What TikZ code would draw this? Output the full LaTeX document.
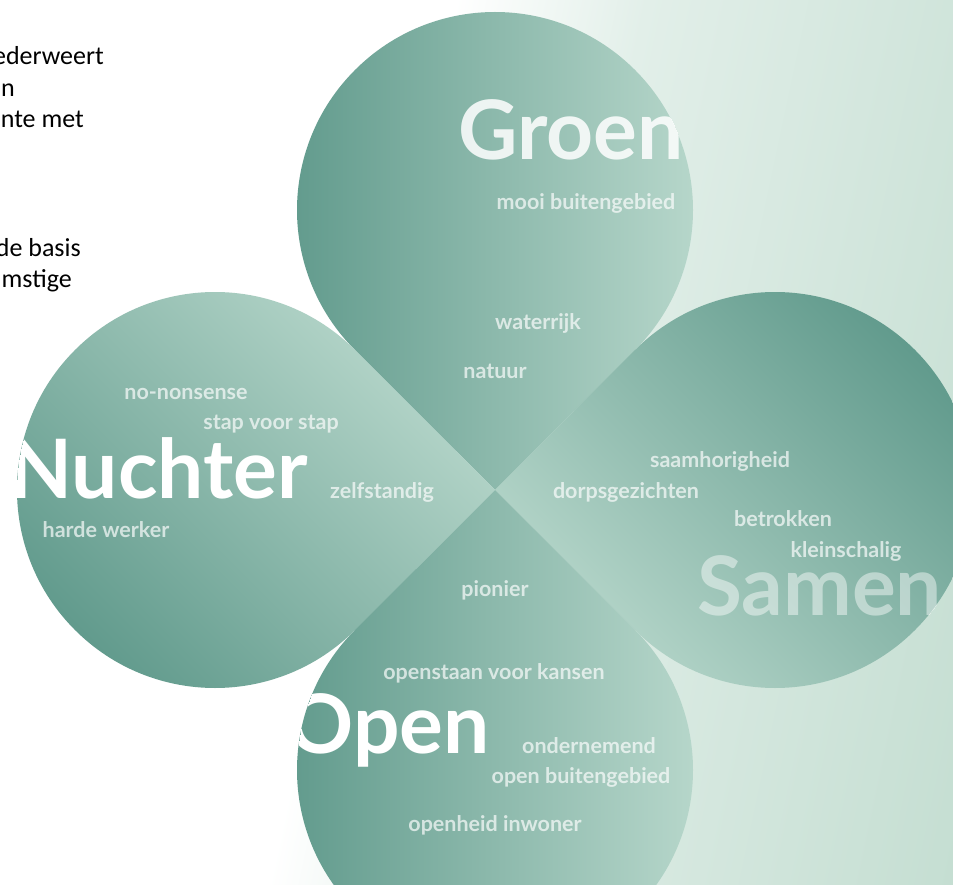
\documentclass[tikz,border=0pt]{standalone}
\usepackage{fontspec}
\setmainfont{Lato}
\newfontfamily\slidefont{Carlito}

\definecolor{petaldark}{RGB}{95,153,139}
\definecolor{petallight}{RGB}{186,217,205}
\definecolor{bgpale}{RGB}{226,239,233}
\definecolor{bgdeep}{RGB}{174,209,192}

\pgfdeclarehorizontalshading{bgfade}{100bp}{color(0bp)=(white); color(44bp)=(white); color(54bp)=(bgpale); color(100bp)=(bgdeep)}

\tikzset{
  word/.style={font=\bfseries\fontsize{21.5}{21.5}\selectfont, text=white, text opacity=0.68, anchor=base, inner sep=0pt},
  bigword/.style={font=\bfseries\fontsize{82}{82}\selectfont, text=white, inner sep=0pt},
  slidetext/.style={font=\slidefont\fontsize{26}{26}\selectfont, anchor=base east, inner sep=0pt}
}

% one petal: circle round #1, point towards the tip in direction #2
\newcommand{\petal}[2]{(#1) ++(#2+45:198) arc[start angle=#2+45, end angle=#2+315, radius=198] -- (tip) -- cycle}

\begin{document}
\begin{tikzpicture}[x=1pt,y=-1pt]
  \useasboundingbox (0,0) rectangle (953,885);
  \clip (0,0) rectangle (953,885);

  \shade[shading=bgfade, shading angle=-12] (0,0) rectangle (953,885);

  % text of the slide, cut off at the left
  \node[slidetext] (line1) at (104,65) {ederweert};
  \node[slidetext] (line2) at (15,97) {en};
  \node[slidetext] (line3) at (84,128) {nte met};
  \node[slidetext] (line4) at (81,257) {de basis};
  \node[slidetext] (line5) at (72,288) {mstige};

  \coordinate (tip) at (495,490);
  \coordinate (groen) at (495,210);
  \coordinate (nuchter) at (215,490);
  \coordinate (samen) at (775,490);
  \coordinate (open) at (495,770);

  % Groen
  \begin{scope}
    \clip \petal{groen}{90};
    \shade[left color=petaldark, right color=petallight] \petal{groen}{90};
    \node[bigword, text opacity=0.85, anchor=base west] (groenword) at (458,160) {Groen};
    \node[word] (mooi) at (586,210) {mooi buitengebied};
    \node[word] (water) at (538,330) {waterrijk};
    \node[word] (natuur) at (495,378) {natuur};
  \end{scope}

  % Nuchter
  \begin{scope}
    \clip \petal{nuchter}{0};
    \shade[top color=petallight, bottom color=petaldark, shading angle=-45] \petal{nuchter}{0};
    \node[bigword, anchor=base east] (nuchterword) at (308,498) {Nuchter};
    \node[word] (nonsense) at (186,399) {no-nonsense};
    \node[word] (stap) at (271,429) {stap voor stap};
    \node[word] (zelf) at (382,498) {zelfstandig};
    \node[word] (harde) at (106,537) {harde werker};
  \end{scope}

  % Samen
  \begin{scope}
    \clip \petal{samen}{180};
    \shade[top color=petaldark, bottom color=petallight, shading angle=-45] \petal{samen}{180};
    \node[bigword, text opacity=0.45, anchor=base west] (samenword) at (697,615) {Samen};
    \node[word] (saam) at (720,467) {saamhorigheid};
    \node[word] (dorp) at (626,498) {dorpsgezichten};
    \node[word] (betrokken) at (783,526) {betrokken};
    \node[word] (klein) at (846,557) {kleinschalig};
  \end{scope}

  % Open
  \begin{scope}
    \clip \petal{open}{270};
    \shade[left color=petaldark, right color=petallight] \petal{open}{270};
    \node[bigword, anchor=base east] (openword) at (490,753) {Open};
    \node[word] (pionier) at (495,596) {pionier};
    \node[word] (kansen) at (494,679) {openstaan voor kansen};
    \node[word] (onder) at (589,753) {ondernemend};
    \node[word] (buiten) at (581,783) {open buitengebied};
    \node[word] (inwoner) at (495,831) {openheid inwoner};
  \end{scope}
\end{tikzpicture}
\end{document}
